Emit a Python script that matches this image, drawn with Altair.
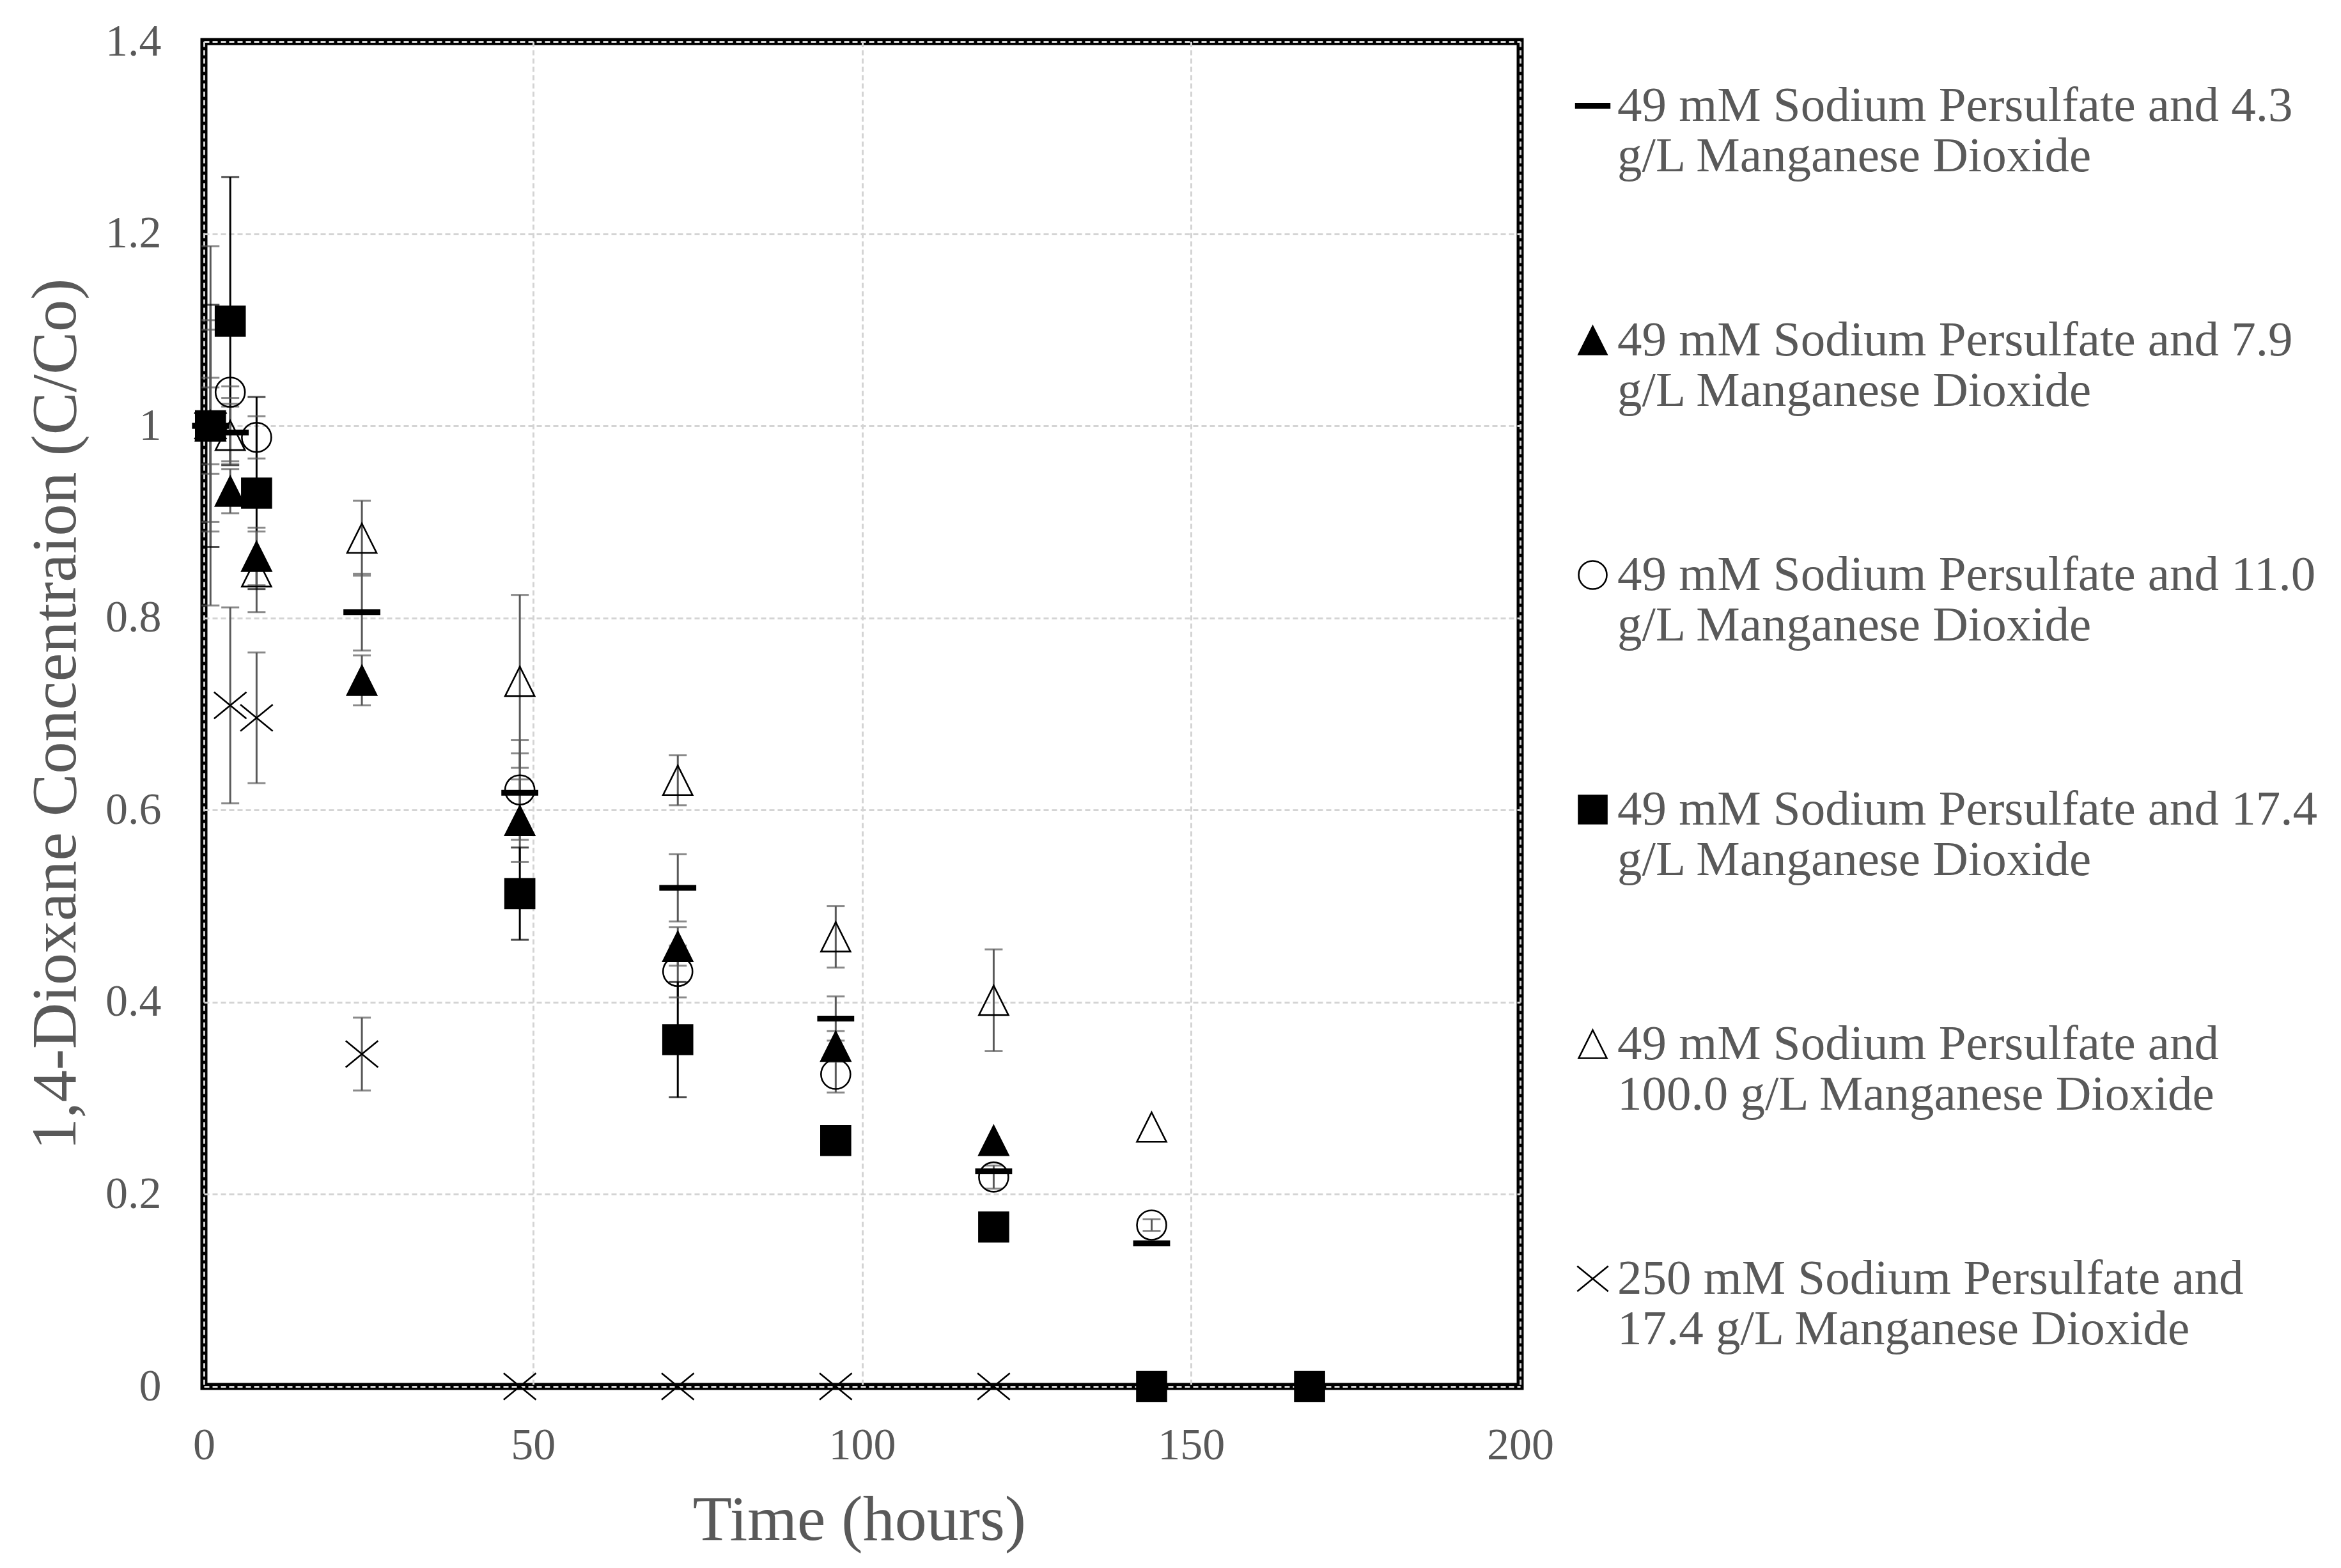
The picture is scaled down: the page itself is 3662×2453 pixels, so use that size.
import altair as alt
import pandas as pd

# ---- series labels (legend text, two lines each) ----
series_names = [
    "49 mM Sodium Persulfate and 4.3\ng/L Manganese Dioxide",
    "49 mM Sodium Persulfate and 7.9\ng/L Manganese Dioxide",
    "49 mM Sodium Persulfate and 11.0\ng/L Manganese Dioxide",
    "49 mM Sodium Persulfate and 17.4\ng/L Manganese Dioxide",
    "49 mM Sodium Persulfate and\n100.0 g/L Manganese Dioxide",
    "250 mM Sodium Persulfate and\n17.4 g/L Manganese Dioxide",
]

# ---- data (time in hours, C/Co, +/- error) ----
time_a = [1, 4, 24, 48, 72, 96, 120, 144]
vals_a = [1.0, 0.993, 0.806, 0.618, 0.519, 0.383, 0.224, 0.149]
errs_a = [0.11, 0.03, 0.04, 0.041, 0.035, 0.023, 0.0, 0.0]

time_b = [1, 4, 8, 24, 48, 72, 96, 120]
vals_b = [1.0, 0.932, 0.864, 0.735, 0.589, 0.458, 0.354, 0.256]
errs_b = [0.10, 0.023, 0.03, 0.026, 0.043, 0.02, 0.016, 0.0]

time_c = [1, 4, 8, 48, 72, 96, 120, 144]
vals_c = [1.0, 1.035, 0.988, 0.621, 0.432, 0.325, 0.218, 0.168]
errs_c = [0.05, 0.006, 0.022, 0.052, 0.027, 0.019, 0.012, 0.006]

time_d = [1, 4, 8, 48, 72, 96, 120, 144, 168]
vals_d = [1.0, 1.109, 0.930, 0.513, 0.361, 0.256, 0.166, 0.0, 0.0]
errs_d = [0.126, 0.15, 0.10, 0.048, 0.06, 0.0, 0.0, 0.0, 0.0]

time_e = [1, 4, 8, 24, 48, 72, 96, 120, 144]
vals_e = [1.0, 0.99, 0.848, 0.883, 0.734, 0.631, 0.468, 0.402, 0.27]
errs_e = [0.04, 0.03, 0.042, 0.039, 0.09, 0.026, 0.032, 0.053, 0.0]

time_f = [1, 4, 8, 24, 48, 72, 96, 120]
vals_f = [1.0, 0.709, 0.696, 0.346, 0.0, 0.0, 0.0, 0.0]
errs_f = [0.187, 0.102, 0.068, 0.038, 0.0, 0.0, 0.0, 0.0]

x_ticks = [0, 50, 100, 150, 200]
y_ticks = [0, 0.2, 0.4, 0.6, 0.8, 1.0, 1.2, 1.4]

# ---- build long table ----
rows = []
for name, ts, vs, es in zip(
    series_names,
    [time_a, time_b, time_c, time_d, time_e, time_f],
    [vals_a, vals_b, vals_c, vals_d, vals_e, vals_f],
    [errs_a, errs_b, errs_c, errs_d, errs_e, errs_f],
):
    for t, v, e in zip(ts, vs, es):
        rows.append({"series": name, "time": t, "value": v, "err": e,
                     "lo": v - e, "hi": v + e})
df = pd.DataFrame(rows)
df_err = df[df["err"] > 0]

# ---- styles ----
TXT = "#595959"
FONT = "Liberation Serif"
shape_range = [
    "M-1.2,-0.14L1.2,-0.14L1.2,0.14L-1.2,0.14Z",   # dash
    "M0,-1L1,1L-1,1Z",                             # filled triangle
    "circle",                                      # open circle
    "square",                                      # filled square
    "M0,-1L1,1L-1,1Z",                             # open triangle
    "M-1.1,-0.9L1.1,0.9M-1.1,0.9L1.1,-0.9",        # x
]
fill_range = ["black", "black", "transparent", "black", "transparent", "transparent"]
stroke_range = ["black"] * 6

xs = alt.Scale(domain=[0, 200], nice=False)
ys = alt.Scale(domain=[0, 1.4], nice=False)

x_axis = alt.Axis(values=x_ticks, title="Time (hours)", labelPadding=58, labelFlush=False,
                  titleX=1025, titleY=239, titleAlign="center",
                  titleBaseline="alphabetic")
y_axis = alt.Axis(values=y_ticks, format="~g", title="1,4-Dioxane Concentraion (C/Co)",
                  labelPadding=67, labelFlush=False, titleX=-202, titleY=1052, titleAngle=270,
                  titleAlign="center", titleBaseline="alphabetic")

# black error bars for the 17.4 g/L series, dark grey for the rest
err_color = alt.condition(alt.datum.series == series_names[3], alt.value("black"), alt.value(TXT))

base = alt.Chart(df_err)
rules = base.mark_rule(strokeWidth=3).encode(
    x=alt.X("time:Q", scale=xs, axis=x_axis),
    y=alt.Y("lo:Q", scale=ys, axis=y_axis),
    y2="hi:Q",
    color=err_color,
)
caps_lo = base.mark_tick(orient="horizontal", size=28, thickness=3).encode(
    x=alt.X("time:Q", scale=xs), y=alt.Y("lo:Q", scale=ys), color=err_color,
)
caps_hi = base.mark_tick(orient="horizontal", size=28, thickness=3).encode(
    x=alt.X("time:Q", scale=xs), y=alt.Y("hi:Q", scale=ys), color=err_color,
)

LABEL_EXPR = "split(datum.label, '\\n')"


def make_legend():
    return alt.Legend(
        title=None, orient="none", legendX=2134, legendY=62,
        labelExpr=LABEL_EXPR,
    )


points = alt.Chart(df).mark_point(size=2116, strokeWidth=2.6, opacity=1).encode(
    x=alt.X("time:Q", scale=xs),
    y=alt.Y("value:Q", scale=ys),
    shape=alt.Shape("series:N", scale=alt.Scale(domain=series_names, range=shape_range),
                    legend=make_legend()),
    fill=alt.Fill("series:N", scale=alt.Scale(domain=series_names, range=fill_range),
                  legend=make_legend()),
    stroke=alt.Stroke("series:N", scale=alt.Scale(domain=series_names, range=stroke_range),
                      legend=make_legend()),
)

chart = (
    alt.layer(rules, caps_lo, caps_hi, points)
    .properties(
        width=2059, height=2104,
        padding={"left": 311, "top": 57, "right": 1270, "bottom": 270},
        autosize=alt.AutoSizeParams(type="none"),
        background="white",
    )
    .configure_view(stroke="black", strokeWidth=11)
    .configure_axis(
        labelFont=FONT, labelFontSize=70, labelColor=TXT,
        titleFont=FONT, titleFontSize=100, titleColor=TXT, titleFontWeight="normal",
        domain=False, ticks=False,
        grid=True, gridColor="#d4d4d4", gridDash=[8, 5], gridWidth=3,
    )
    .configure_legend(
        labelFont=FONT, labelFontSize=77, labelColor=TXT, labelLimit=3000,
        labelBaseline="middle", labelOffset=0,
        symbolSize=1936, symbolStrokeWidth=2.6, rowPadding=210, padding=0,
    )
)

chart.save("out.html", embed_options={"renderer": "svg", "actions": False})
